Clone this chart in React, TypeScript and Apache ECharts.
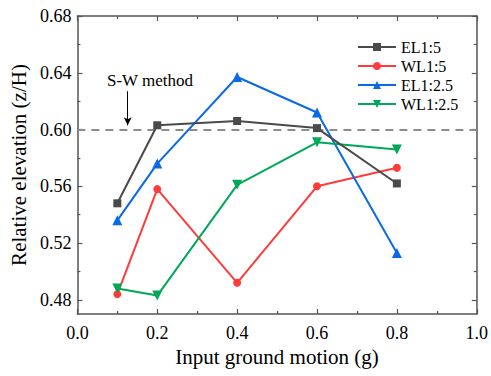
import React, { useEffect, useRef } from "react";
import * as echarts from "echarts";

const xValues = [0.1, 0.2, 0.4, 0.6, 0.8];
const el15 = [0.548, 0.603, 0.606, 0.601, 0.562];
const wl15 = [0.484, 0.558, 0.492, 0.560, 0.573];
const el125 = [0.536, 0.576, 0.637, 0.612, 0.513];
const wl125 = [0.488, 0.483, 0.561, 0.591, 0.586];
const seriesNames = ["EL1:5", "WL1:5", "EL1:2.5", "WL1:2.5"];
const yMajor = [0.48, 0.52, 0.56, 0.6, 0.64, 0.68];
const yMinor = [0.5, 0.54, 0.58, 0.62, 0.66];
const swValue = 0.6;
const arrowX = 0.126;
const arrowFrom = 0.627;
const arrowTo = 0.603;

const FONT = "'Liberation Serif', 'Times New Roman', serif";
const AXIS_COLOR = "#555555";

function pairs(ys: number[]) {
  return xValues.map((x, i) => [x, ys[i]]);
}

export default function App() {
  const ref = useRef<HTMLDivElement>(null);
  useEffect(() => {
    document.body.style.margin = "0";
    const chart = echarts.init(ref.current!, null, { renderer: "svg" });
    const yCommon = {
      type: "value" as const,
      min: 0.47,
      max: 0.68,
      splitLine: { show: false },
    };
    const option: any = {
      animation: false,
      textStyle: { fontFamily: FONT, color: "#000" },
      grid: { left: 77, top: 16, right: 12, bottom: 62 },
      legend: {
        orient: "vertical",
        left: 357,
        top: 39,
        padding: 0,
        itemGap: 3,
        itemWidth: 38,
        itemHeight: 10,
        textStyle: { fontFamily: FONT, fontSize: 16, color: "#000" },
        data: seriesNames,
      },
      xAxis: [
        {
          type: "value",
          min: 0,
          max: 1,
          interval: 0.2,
          position: "bottom",
          name: "Input ground motion (g)",
          nameLocation: "middle",
          nameGap: 27,
          nameTextStyle: { fontFamily: FONT, fontSize: 21, color: "#000" },
          axisLine: { show: true, lineStyle: { color: AXIS_COLOR, width: 1.5 } },
          axisTick: { show: true, inside: true, length: 5, lineStyle: { color: AXIS_COLOR, width: 1.2 } },
          minorTick: { show: true, splitNumber: 2, length: 3, lineStyle: { color: AXIS_COLOR, width: 1.2 } },
          axisLabel: {
            margin: 10,
            fontFamily: FONT,
            fontSize: 18,
            color: "#000",
            formatter: (v: number) => v.toFixed(1),
          },
          splitLine: { show: false },
        },
        {
          type: "value",
          min: 0,
          max: 1,
          interval: 0.2,
          position: "top",
          axisLine: { show: true, lineStyle: { color: AXIS_COLOR, width: 1.5 } },
          axisTick: { show: true, inside: true, length: 5, lineStyle: { color: AXIS_COLOR, width: 1.2 } },
          minorTick: { show: true, splitNumber: 2, length: 3, lineStyle: { color: AXIS_COLOR, width: 1.2 } },
          axisLabel: { show: false },
          splitLine: { show: false },
        },
      ],
      yAxis: [
        {
          ...yCommon,
          position: "left",
          name: "Relative elevation (z/H)",
          nameLocation: "middle",
          nameGap: 39,
          nameTextStyle: { fontFamily: FONT, fontSize: 21, color: "#000" },
          axisLine: { show: true, lineStyle: { color: AXIS_COLOR, width: 1.5 } },
          axisTick: { show: true, inside: true, length: 5, customValues: yMajor, lineStyle: { color: AXIS_COLOR, width: 1.2 } },
          axisLabel: {
            customValues: yMajor,
            margin: 6,
            fontFamily: FONT,
            fontSize: 18,
            color: "#000",
            formatter: (v: number) => v.toFixed(2),
          },
        },
        {
          ...yCommon,
          position: "left",
          axisLine: { show: false },
          axisTick: { show: true, inside: true, length: 3, customValues: yMinor, lineStyle: { color: AXIS_COLOR, width: 1.2 } },
          axisLabel: { show: false },
        },
        {
          ...yCommon,
          position: "right",
          axisLine: { show: true, lineStyle: { color: AXIS_COLOR, width: 1.5 } },
          axisTick: { show: true, inside: true, length: 5, customValues: yMajor, lineStyle: { color: AXIS_COLOR, width: 1.2 } },
          axisLabel: { show: false },
        },
        {
          ...yCommon,
          position: "right",
          axisLine: { show: false },
          axisTick: { show: true, inside: true, length: 3, customValues: yMinor, lineStyle: { color: AXIS_COLOR, width: 1.2 } },
          axisLabel: { show: false },
        },
      ],
      graphic: [
        {
          type: "text",
          left: 107,
          top: 72,
          style: { text: "S-W method", fontFamily: FONT, fontSize: 17, fill: "#000" },
        },
      ],
      series: [
        {
          name: seriesNames[0],
          type: "line",
          data: pairs(el15),
          symbol: "rect",
          symbolSize: 8,
          color: "#4a4a4a",
          lineStyle: { width: 2 },
          z: 4,
          markLine: {
            silent: true,
            symbol: ["none", "none"],
            label: { show: false },
            lineStyle: { color: "#8c8c8c", type: [8, 6], width: 2 },
            data: [{ yAxis: swValue }],
            z: 1,
          },
        },
        {
          name: seriesNames[1],
          type: "line",
          data: pairs(wl15),
          symbol: "circle",
          symbolSize: 8,
          color: "#ff3b3b",
          lineStyle: { width: 2 },
        },
        {
          name: seriesNames[2],
          type: "line",
          data: pairs(el125),
          symbol: "triangle",
          symbolSize: 10,
          color: "#0a6ae6",
          lineStyle: { width: 2 },
        },
        {
          name: seriesNames[3],
          type: "line",
          data: pairs(wl125),
          symbol: "triangle",
          symbolRotate: 180,
          symbolSize: 10,
          color: "#00a85a",
          lineStyle: { width: 2 },
          markLine: {
            silent: true,
            symbol: ["none", "arrow"],
            symbolSize: [6, 8],
            label: { show: false },
            lineStyle: { color: "#000", type: "solid", width: 1 },
            data: [[{ coord: [arrowX, arrowFrom] }, { coord: [arrowX, arrowTo] }]],
          },
        },
      ],
    };
    chart.setOption(option);
    return () => chart.dispose();
  }, []);
  return <div ref={ref} style={{ width: 491, height: 376 }} />;
}
